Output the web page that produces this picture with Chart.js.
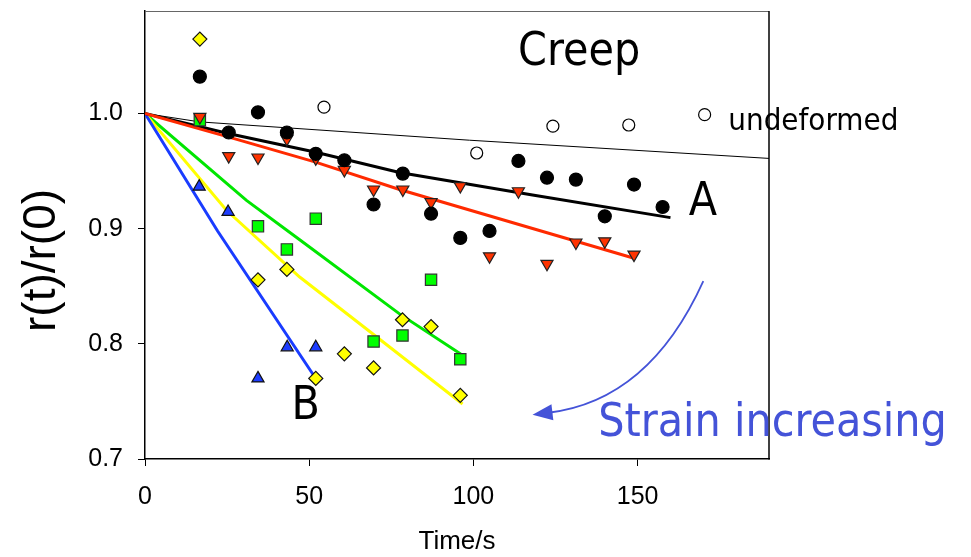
<!DOCTYPE html>
<html><head><meta charset="utf-8">
<script src="https://cdn.jsdelivr.net/npm/chart.js@4"></script>
<style>html,body{margin:0;padding:0;background:#fff}#wrap{width:971px;height:557px}</style>
</head><body><div id="wrap"><canvas id="c" width="971" height="557"></canvas></div>
<script>
// ---- data ----
const xTicks = [0, 50, 100, 150];
const yTicks = [0.7, 0.8, 0.9, 1.0];

const blackT = [16.7, 25.5, 34.4, 43.2, 52.0, 60.7, 69.6, 78.5, 87.1, 96.0, 104.9, 113.7, 122.4, 131.2, 140.0, 148.9, 157.6];
const blackR = [1.032, 0.9835, 1.001, 0.9835, 0.965, 0.9594, 0.921, 0.9478, 0.913, 0.892, 0.898, 0.9588, 0.9443, 0.9426, 0.9107, 0.9383, 0.9188];

const redT = [16.7, 25.5, 34.4, 43.2, 52.0, 60.7, 69.6, 78.5, 87.1, 96.0, 104.9, 113.7, 122.4, 131.2, 140.0, 148.9];
const redR = [0.997, 0.963, 0.9618, 0.978, 0.961, 0.951, 0.934, 0.934, 0.923, 0.937, 0.876, 0.9325, 0.8695, 0.888, 0.889, 0.8775];

const greenT = [16.7, 34.4, 43.2, 52.0, 69.6, 78.4, 87.1, 96.0];
const greenR = [0.9942, 0.902, 0.882, 0.9087, 0.802, 0.8072, 0.8556, 0.7866];

const yellowT = [16.7, 34.4, 43.2, 52.0, 60.7, 69.6, 78.4, 87.1, 96.0];
const yellowR = [1.0646, 0.8556, 0.8646, 0.770, 0.7913, 0.7791, 0.8209, 0.815, 0.7553];

const blueT = [16.5, 25.3, 34.4, 43.3, 52.0];
const blueR = [0.9365, 0.9145, 0.770, 0.797, 0.797];

const undefT = [54.5, 101.0, 124.2, 147.3, 170.4];
const undefR = [1.0055, 0.9657, 0.989, 0.990, 0.999];

// fitted curves
const fitBlackT = [0, 25.3, 51.7, 77.5, 118, 160];
const fitBlackR = [1.0, 0.9826, 0.9666, 0.9488, 0.9293, 0.9096];
const fitRedT = [0, 25.3, 51.7, 77.5, 148.4];
const fitRedR = [1.0, 0.9797, 0.958, 0.934, 0.8748];
const fitGreenT = [0, 30.9, 47.1, 77.5, 96.7];
const fitGreenR = [1.0, 0.9246, 0.8904, 0.826, 0.790];
const fitYellowT = [0, 24.8, 47.1, 69.4, 96.7];
const fitYellowR = [1.0, 0.916, 0.858, 0.8085, 0.7478];
const fitBlueT = [0, 22.1, 52.2];
const fitBlueR = [1.0, 0.898, 0.769];
const fitUndefT = [0, 16.7, 98.8, 190];
const fitUndefR = [1.0, 0.9927, 0.9768, 0.961];

const labels = ['Creep', 'undeformed', 'A', 'B', 'Strain increasing'];
const xTitle = 'Time/s';
const yTitle = 'r(t)/r(0)';

// ---- helpers ----
const pts = (xs, ys) => xs.map((x, i) => ({x: x, y: ys[i]}));
const annFont = '"DejaVu Sans Condensed", "DejaVu Sans", sans-serif';
const axFont = '"Liberation Sans", Arial, sans-serif';

function markers(xs, ys, style, r, fill, border, rot) {
  return {data: pts(xs, ys), pointStyle: style, pointRadius: r, pointHoverRadius: r,
    backgroundColor: fill, borderColor: border, borderWidth: 1.2, pointRotation: rot || 0, showLine: false};
}
function curve(xs, ys, color, w) {
  return {data: pts(xs, ys), showLine: true, pointRadius: 0, pointHoverRadius: 0,
    borderColor: color, borderWidth: w, backgroundColor: color, tension: 0, fill: false};
}

const annot = {
  id: 'annot',
  afterDraw(chart) {
    const {ctx, chartArea: a, scales: {x, y}} = chart;
    const px = v => x.getPixelForValue(v), py = v => y.getPixelForValue(v);
    ctx.save();
    // frame top/right
    ctx.strokeStyle = '#666'; ctx.lineWidth = 1;
    ctx.beginPath(); ctx.moveTo(a.left, a.top + 0.5); ctx.lineTo(a.right, a.top + 0.5); ctx.stroke();
    ctx.strokeStyle = '#000'; ctx.lineWidth = 1.5;
    ctx.beginPath(); ctx.moveTo(a.right, a.top); ctx.lineTo(a.right, a.bottom + 0.5); ctx.stroke();

    // annotations
    ctx.fillStyle = '#000'; ctx.textBaseline = 'alphabetic';
    ctx.font = '46px ' + annFont; ctx.textAlign = 'center';
    ctx.fillText(labels[0], px(132.2), py(1.042));
    ctx.fillText(labels[2], px(169.9), py(0.9118));
    ctx.fillText(labels[3], px(48.9), py(0.735));
    ctx.font = '31px ' + annFont; ctx.textAlign = 'left';
    ctx.fillText(labels[1], px(177.6), py(0.9855));
    ctx.fillStyle = '#4453d8';
    ctx.font = '46px ' + annFont;
    ctx.fillText(labels[4], px(138), py(0.7203));

    // curved arrow
    const sx = px(170), sy = py(0.8544), cx = px(153.5), cy = py(0.7506), tx = px(118), ty = py(0.7385);
    const ang = Math.atan2(ty - cy, tx - cx);
    const hl = 20, hw = 8;
    const bx = tx - Math.cos(ang) * hl, by = ty - Math.sin(ang) * hl;
    ctx.strokeStyle = '#4453d8'; ctx.lineWidth = 1.8;
    ctx.beginPath(); ctx.moveTo(sx, sy); ctx.quadraticCurveTo(cx, cy, bx + Math.cos(ang) * 4, by + Math.sin(ang) * 4); ctx.stroke();
    ctx.beginPath();
    ctx.moveTo(tx, ty);
    ctx.lineTo(bx + Math.sin(ang) * hw, by - Math.cos(ang) * hw);
    ctx.lineTo(bx - Math.sin(ang) * hw, by + Math.cos(ang) * hw);
    ctx.closePath(); ctx.fillStyle = '#4453d8'; ctx.fill();

    // y axis title
    ctx.fillStyle = '#000';
    ctx.font = '46px ' + axFont; ctx.textAlign = 'center'; ctx.textBaseline = 'middle';
    ctx.translate(42.5, py(0.8724)); ctx.rotate(-Math.PI / 2);
    ctx.fillText(yTitle, 0, 0);
    ctx.restore();
  }
};

new Chart(document.getElementById('c'), {
  type: 'scatter',
  data: {datasets: [
    markers(blackT, blackR, 'circle', 6.5, '#000', '#000'),
    markers(undefT, undefR, 'circle', 6, '#fff', '#000'),
    markers(redT, redR, 'triangle', 7, '#ff3300', '#222', 180),
    markers(blueT, blueR, 'triangle', 7, '#1d3cff', '#111'),
    markers(greenT, greenR, 'rect', 8, '#00ff00', '#333'),
    markers(yellowT, yellowR, 'rectRot', 7, '#ffff00', '#111'),
    curve(fitRedT, fitRedR, '#ff2a00', 3),
    curve(fitBlackT, fitBlackR, '#000', 3),
    curve(fitBlueT, fitBlueR, '#1a3cff', 3),
    curve(fitYellowT, fitYellowR, '#ffff00', 3),
    curve(fitGreenT, fitGreenR, '#00e600', 3),
    curve(fitUndefT, fitUndefR, '#000', 1)
  ]},
  options: {
    responsive: false, animation: false, devicePixelRatio: 1,
    plugins: {legend: {display: false}, tooltip: {enabled: false}},
    layout: {padding: {left: 0, right: 202, top: 11, bottom: 0}},
    scales: {
      x: {
        type: 'linear', min: 0, max: 190,
        afterBuildTicks: s => { s.ticks = xTicks.map(v => ({value: v})); },
        ticks: {font: {family: axFont, size: 25}, color: '#000', padding: 16, maxRotation: 0, autoSkip: false,
          callback: v => String(v)},
        grid: {drawOnChartArea: false, drawTicks: true, tickLength: 7, color: '#000', tickWidth: 1},
        border: {color: '#000', width: 1.5},
        title: {display: true, text: xTitle, color: '#000', font: {family: axFont, size: 26}, padding: {top: 0, bottom: 0}},
        afterFit: s => { s.height = 98; s.paddingLeft = 0; s.paddingRight = 0; }
      },
      y: {
        type: 'linear', min: 0.7, max: 1.089,
        afterBuildTicks: s => { s.ticks = yTicks.map(v => ({value: v})); },
        ticks: {font: {family: axFont, size: 25}, color: '#000', padding: 15, autoSkip: false,
          callback: v => Number(v).toFixed(1)},
        grid: {drawOnChartArea: false, drawTicks: true, tickLength: 7, color: '#000', tickWidth: 1},
        border: {color: '#000', width: 1.5},
        afterFit: s => { s.width = 145; s.paddingTop = 0; s.paddingBottom = 0; }
      }
    }
  },
  plugins: [annot]
});
</script></body></html>
